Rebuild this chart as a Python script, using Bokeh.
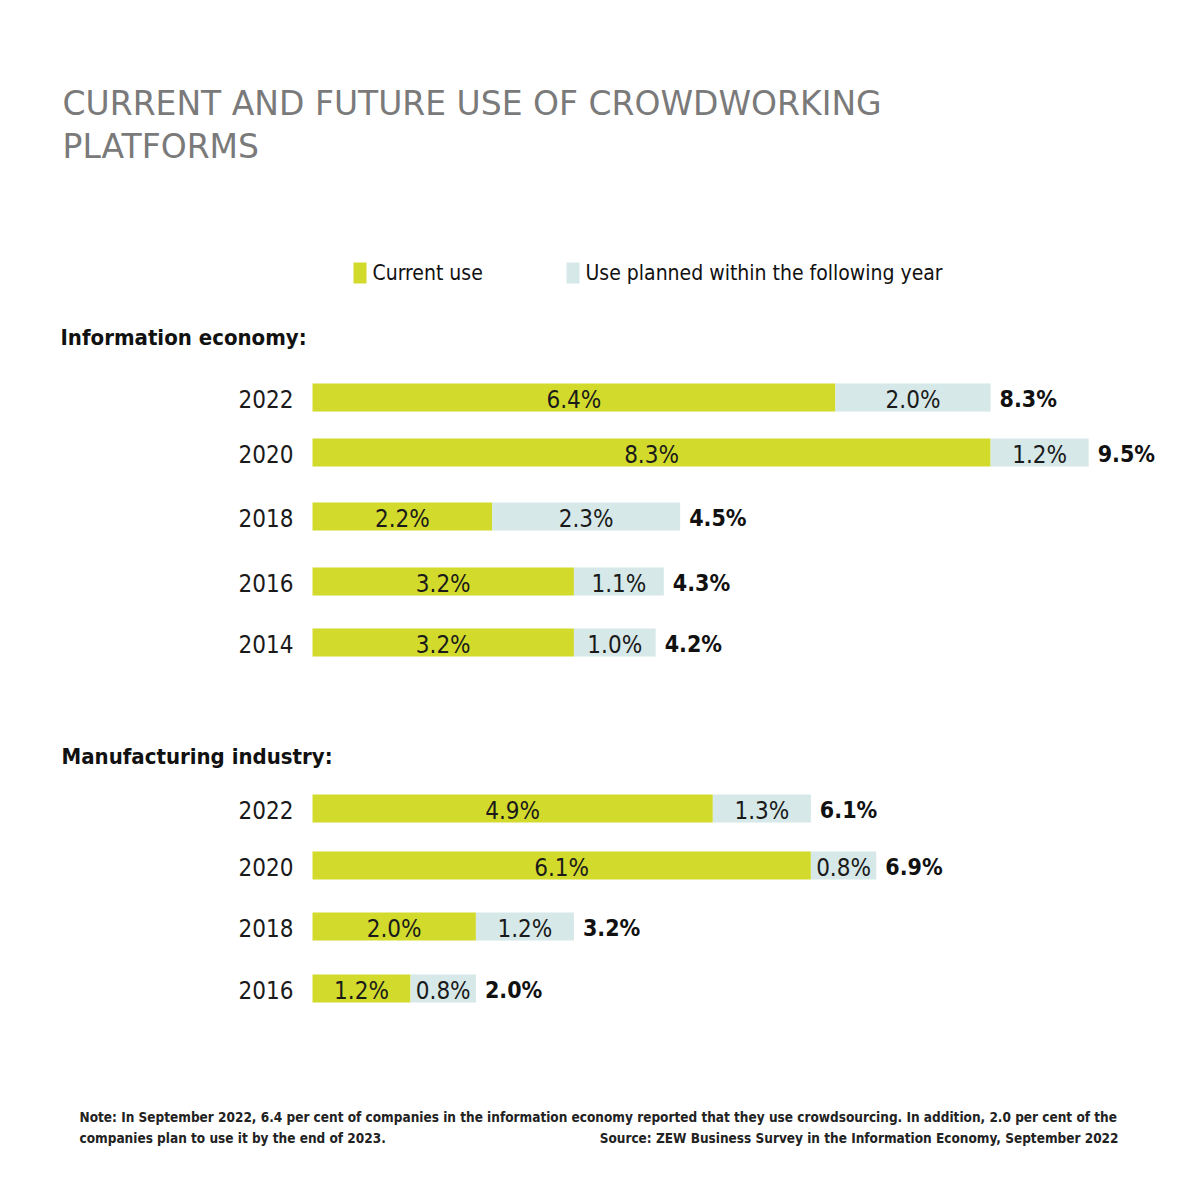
from bokeh.plotting import figure
from bokeh.models import Range1d, Label, ColumnDataSource
from bokeh.core.properties import value
from bokeh.embed import file_html
from bokeh.resources import INLINE

# ---------------- data ----------------
info_years = ["2022", "2020", "2018", "2016", "2014"]
info_current = [6.4, 8.3, 2.2, 3.2, 3.2]
info_planned = [2.0, 1.2, 2.3, 1.1, 1.0]
info_total = [8.3, 9.5, 4.5, 4.3, 4.2]

manu_years = ["2022", "2020", "2018", "2016"]
manu_current = [4.9, 6.1, 2.0, 1.2]
manu_planned = [1.3, 0.8, 1.2, 0.8]
manu_total = [6.1, 6.9, 3.2, 2.0]

# ---------------- layout (page pixel rows) ----------------
info_rows = [397, 452, 516, 581, 642]
manu_rows = [808, 865, 926, 988]

W, H = 1184, 1185
OFF = 0             # page offset of the canvas
X0 = 312.0          # page x of value 0
PX = 81.7           # pixels per percentage point
GREEN = "#d2db2c"
BLUE = "#d6e8e8"
FONT = "DejaVu Sans Condensed"

p = figure(width=W, height=H, output_backend="svg", toolbar_location=None,
           x_range=Range1d((OFF - X0) / PX, (OFF + W - X0) / PX),
           y_range=Range1d(OFF + H, OFF), min_border=0)
p.axis.visible = False
p.grid.visible = False
p.outline_line_color = None
p.background_fill_color = "white"
p.border_fill_color = "white"


def fmt(v):
    return f"{v:.1f}%"


def block(years, cur, plan, tot, rows):
    src = ColumnDataSource(dict(
        y=rows, year=years, cur=cur, tot=tot,
        zero=[0] * len(cur),
        cur_mid=[c / 2 for c in cur],
        plan_mid=[c + (t - c) / 2 for c, t in zip(cur, tot)],
        cur_lab=[fmt(v) for v in cur],
        plan_lab=[fmt(v) for v in plan],
        tot_lab=[fmt(v) for v in tot],
        x_year=[(293 - X0) / PX] * len(cur),
    ))
    p.hbar(y="y", left="zero", right="cur", height=28, source=src,
           fill_color=GREEN, line_color=None)
    p.hbar(y="y", left="cur", right="tot", height=28, source=src,
           fill_color=BLUE, line_color=None)
    common = dict(text_font=value(FONT), text_font_size="24px",
                  text_color="#1a1a1a", text_baseline="middle")
    p.text(x="cur_mid", y="y", text="cur_lab", source=src, text_align="center",
           y_offset=2, **common)
    p.text(x="plan_mid", y="y", text="plan_lab", source=src, text_align="center",
           y_offset=2, **common)
    p.text(x="tot", y="y", text="tot_lab", source=src, text_align="left",
           x_offset=9, y_offset=1, text_font_style="bold",
           text_font=value(FONT), text_font_size="23px", text_color="#111111",
           text_baseline="middle")
    p.text(x="x_year", y="y", text="year", source=src, text_align="right",
           y_offset=1, **common)


block(info_years, info_current, info_planned, info_total, info_rows)
block(manu_years, manu_current, manu_planned, manu_total, manu_rows)


def label(text, x, y, size, color="#111111", font="DejaVu Sans", style="normal",
          align="left"):
    p.add_layout(Label(x=x - OFF, y=y, x_units="screen", y_units="data", text=text,
                       text_font=font, text_font_size=size, text_color=color,
                       text_font_style=style, text_align=align,
                       text_baseline="alphabetic"))


# title
label("CURRENT AND FUTURE USE OF CROWDWORKING", 62, 103, "33px", color="#7a7a7a")
label("PLATFORMS", 62, 146, "33px", color="#7a7a7a")

# legend
p.rect(x=[(359.5 - X0) / PX, (572.5 - X0) / PX], y=[272.5, 272.5], width=13,
       height=21, width_units="screen", height_units="screen",
       fill_color=[GREEN, BLUE], line_color=None)
label("Current use", 372, 272, "21px", font=FONT)
label("Use planned within the following year", 585, 272, "21px", font=FONT)

# section headers
label("Information economy:", 60, 337, "22px", font=FONT, style="bold")
label("Manufacturing industry:", 61, 756, "22px", font=FONT, style="bold")

# footnote
NOTE_FONT = FONT
label("Note: In September 2022, 6.4 per cent of companies in the information economy "
      "reported that they use crowdsourcing. In addition, 2.0 per cent of the",
      79, 1116, "13.5px", font=NOTE_FONT, style="bold", color="#222222")
label("companies plan to use it by the end of 2023.", 79, 1137, "13.5px",
      font=NOTE_FONT, style="bold", color="#222222")
label("Source: ZEW Business Survey in the Information Economy, September 2022",
      1118, 1137, "13.5px", font=NOTE_FONT, style="bold", color="#222222",
      align="right")

open("out.html", "w").write(file_html(p, INLINE))
